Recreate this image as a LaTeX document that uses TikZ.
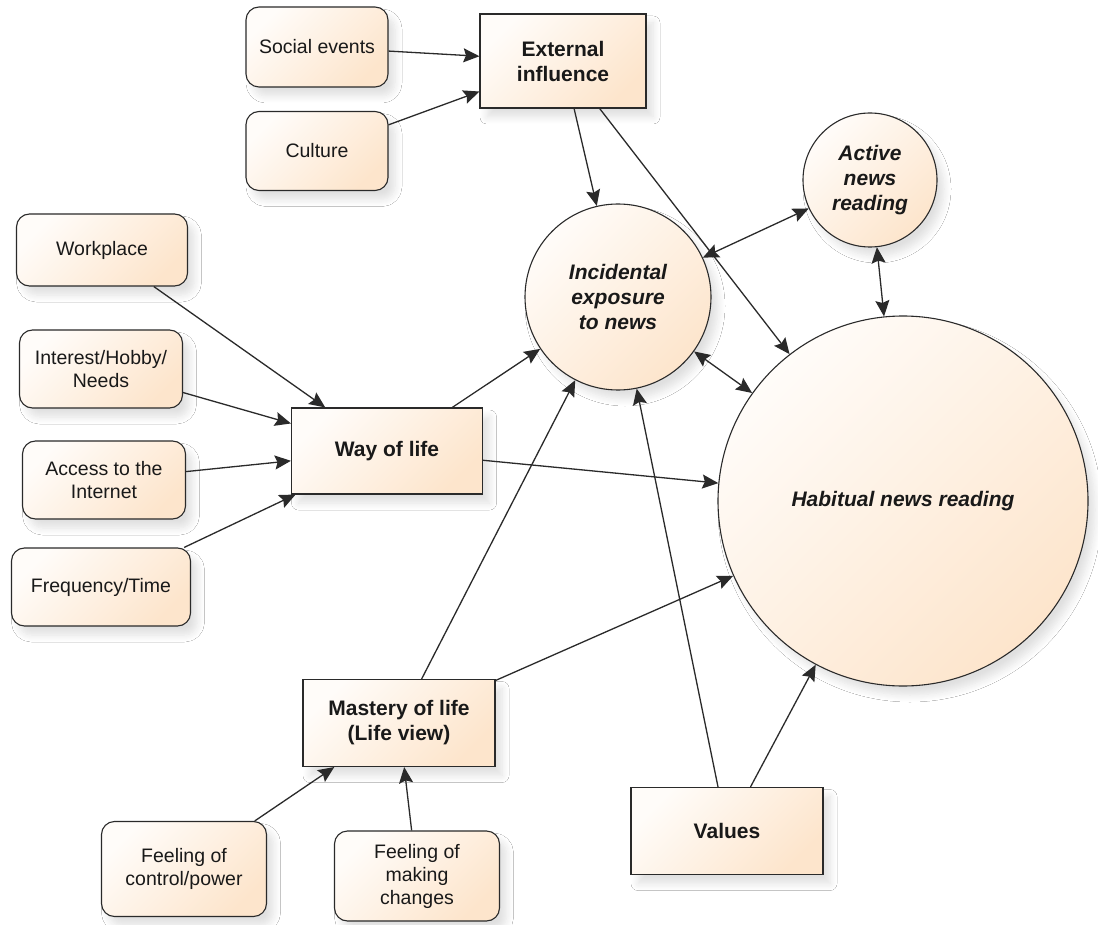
\documentclass[tikz,border=0pt]{standalone}
\usepackage{fontspec}
\setmainfont{Liberation Sans}
\usetikzlibrary{arrows.meta,shadows.blur,shapes.geometric}
\definecolor{peachA}{HTML}{FFFCF9}
\definecolor{peachB}{HTML}{FDE5CC}
\definecolor{edgegray}{HTML}{2A2A2A}
\tikzset{
  base/.style={draw=edgegray, line width=1.1pt, top color=peachA, bottom color=peachB, shading angle=45,
    align=center, inner sep=0pt, text=black!90,
    blur shadow={shadow xshift=7pt, shadow yshift=-9pt, shadow blur radius=7pt, shadow blur steps=8, shadow opacity=12}},
  softbox/.style={base, rounded corners=13pt, font=\fontsize{19.5}{23}\selectfont},
  hardbox/.style={base, rectangle, font=\fontsize{21}{25}\selectfont\bfseries},
  bubble/.style={base, circle, font=\fontsize{21}{25}\selectfont\bfseries\itshape},
  conn/.style={draw=edgegray, line width=1.3pt, -{Stealth[length=16pt,width=14pt,inset=2.5pt]}},
  biconn/.style={draw=edgegray, line width=1.3pt, {Stealth[length=16pt,width=14pt,inset=2.5pt]}-{Stealth[length=16pt,width=14pt,inset=2.5pt]}}
}
\begin{document}
\begin{tikzpicture}[x=1pt,y=-1pt]
\useasboundingbox[fill=white] (0,0) rectangle (1098,925);

% boxes
\node[softbox, minimum width=142pt, minimum height=80pt] (social) at (317,47) {Social events};
\node[softbox, minimum width=142pt, minimum height=79pt] (culture) at (317,151) {Culture};
\node[hardbox, minimum width=166pt, minimum height=94pt] (external) at (563,61) {External\\influence};
\node[softbox, minimum width=171pt, minimum height=72pt] (work) at (102,250) {Workplace};
\node[softbox, minimum width=163pt, minimum height=78pt] (interest) at (101,369) {Interest/Hobby/\\Needs};
\node[softbox, minimum width=163pt, minimum height=78pt] (access) at (104,480) {Access to the\\Internet};
\node[softbox, minimum width=179pt, minimum height=78pt] (freq) at (101,587) {Frequency/Time};
\node[hardbox, minimum width=191pt, minimum height=86pt] (way) at (387,451) {Way of life};
\node[hardbox, minimum width=192pt, minimum height=87pt] (mastery) at (399,723) {Mastery of life\\(Life view)};
\node[softbox, minimum width=165pt, minimum height=95pt] (control) at (184,869) {Feeling of\\control/power};
\node[softbox, minimum width=165pt, minimum height=90pt] (making) at (417,876) {Feeling of\\making\\changes};
\node[hardbox, minimum width=192pt, minimum height=87pt] (values) at (727,831) {Values};

% circles
\node[bubble, minimum size=186pt] (incidental) at (618,297) {Incidental\\exposure\\to news};
\node[bubble, minimum size=134pt] (active) at (870,180) {Active\\news\\reading};
\node[bubble, minimum size=370pt] (habitual) at (903,501) {Habitual news reading};

% connectors
\draw[conn] (social) -- (external);
\draw[conn] (culture) -- (external);
\draw[conn] (external) -- (incidental);
\draw[conn] (external) -- (habitual);
\draw[biconn] (incidental) -- (active);
\draw[biconn] (active) -- (habitual);
\draw[biconn] (incidental) -- (habitual);
\draw[conn] (work) -- (way);
\draw[conn] (interest) -- (way);
\draw[conn] (access) -- (way);
\draw[conn] (freq) -- (way);
\draw[conn] (way) -- (incidental);
\draw[conn] (way) -- (habitual);
\draw[conn] (mastery) -- (incidental);
\draw[conn] (mastery) -- (habitual);
\draw[conn] (values) -- (incidental);
\draw[conn] (values) -- (habitual);
\draw[conn] (control) -- (mastery);
\draw[conn] (making) -- (mastery);
\end{tikzpicture}
\end{document}
